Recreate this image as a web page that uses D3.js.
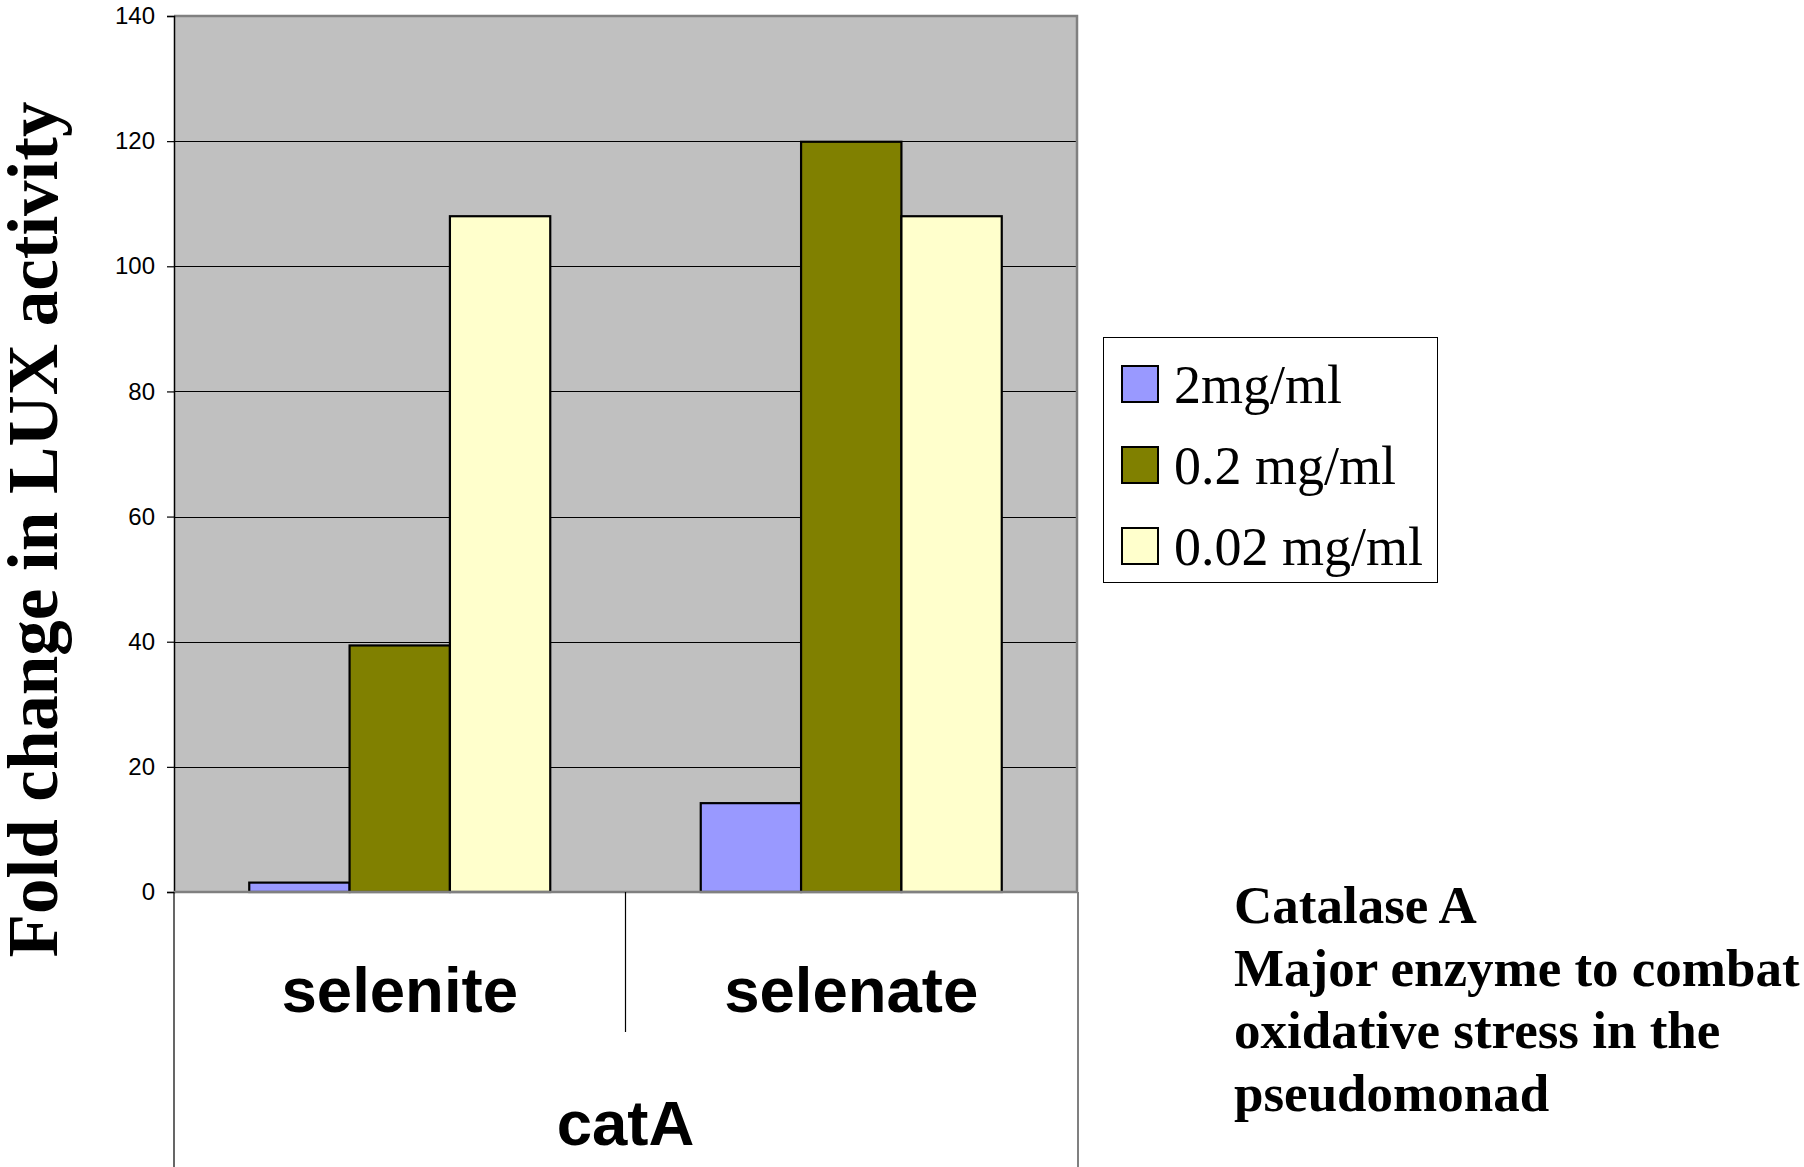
<!DOCTYPE html>
<html>
<head>
<meta charset="utf-8">
<script src="https://cdn.jsdelivr.net/npm/d3@7"></script>
<style>
  html, body { margin: 0; padding: 0; background: #ffffff; }
  svg { display: block; }
</style>
</head>
<body>
<svg id="chart" width="1804" height="1167"></svg>
<script>
// ---- data ----
const categories = ["selenite", "selenate"];
const groupLabel = "catA";
const seriesNames = ["2mg/ml", "0.2 mg/ml", "0.02 mg/ml"];
const seriesColors = ["#9999FF", "#808000", "#FFFFCC"];
const values2mg = [1.5, 14.2];
const values02mg = [39.4, 119.9];
const values002mg = [108, 108];
const yTicks = [0, 20, 40, 60, 80, 100, 120, 140];
const yTitle = "Fold change in LUX activity";
const noteLines = ["Catalase A", "Major enzyme to combat", "oxidative stress in the", "pseudomonad"];

const seriesValues = [values2mg, values02mg, values002mg];

// ---- layout ----
const plot = { left: 174, right: 1077, top: 16, bottom: 892 };
const svg = d3.select("#chart");

const y = d3.scaleLinear().domain([0, 140]).range([plot.bottom, plot.top]);
const x0 = d3.scaleBand().domain(categories).range([plot.left, plot.right])
  .paddingInner(1/3).paddingOuter(1/6);
const x1 = d3.scaleBand().domain(seriesNames).range([0, x0.bandwidth()]);

// plot background
svg.append("rect")
  .attr("x", plot.left).attr("y", plot.top)
  .attr("width", plot.right - plot.left).attr("height", plot.bottom - plot.top)
  .attr("fill", "#C0C0C0");

// gridlines
svg.append("g").selectAll("line")
  .data(yTicks.filter(d => d > 0 && d < 140))
  .join("line")
  .attr("x1", plot.left).attr("x2", plot.right)
  .attr("y1", d => Math.round(y(d)) + 0.5).attr("y2", d => Math.round(y(d)) + 0.5)
  .attr("stroke", "#000").attr("stroke-width", 1.2);

// top & right border of plot
svg.append("path")
  .attr("d", `M${plot.left},${plot.top} H${plot.right} V${plot.bottom}`)
  .attr("fill", "none").attr("stroke", "#808080").attr("stroke-width", 2.5);

// bars
const barData = [];
categories.forEach((c, ci) => {
  seriesNames.forEach((s, si) => {
    barData.push({ cat: c, series: s, value: seriesValues[si][ci], color: seriesColors[si] });
  });
});
svg.append("g").selectAll("rect")
  .data(barData)
  .join("rect")
  .attr("x", d => x0(d.cat) + x1(d.series))
  .attr("y", d => y(d.value))
  .attr("width", x1.bandwidth())
  .attr("height", d => y(0) - y(d.value))
  .attr("fill", d => d.color)
  .attr("stroke", "#000").attr("stroke-width", 2.2);

// y axis
const yAxis = d3.axisLeft(y).tickValues(yTicks).tickSize(7).tickPadding(12).tickFormat(d3.format("d"));
const yg = svg.append("g").attr("transform", `translate(${plot.left},0)`).call(yAxis);
yg.select(".domain").attr("stroke", "#000").attr("stroke-width", 1.5);
yg.selectAll(".tick line").attr("stroke", "#000").attr("stroke-width", 1.2);
yg.selectAll(".tick text")
  .attr("font-family", "Arial, 'Liberation Sans', sans-serif")
  .attr("font-size", 24).attr("fill", "#000");

// x axis (zero line)
svg.append("line")
  .attr("x1", plot.left).attr("x2", plot.right + 1)
  .attr("y1", plot.bottom).attr("y2", plot.bottom)
  .attr("stroke", "#808080").attr("stroke-width", 2.5);

// category-axis frame lines below plot
svg.append("line").attr("x1", plot.left).attr("x2", plot.left)
  .attr("y1", plot.bottom).attr("y2", 1167).attr("stroke", "#000").attr("stroke-width", 1.2);
svg.append("line").attr("x1", plot.right + 1).attr("x2", plot.right + 1)
  .attr("y1", plot.bottom).attr("y2", 1167).attr("stroke", "#808080").attr("stroke-width", 2);
// separator between categories
const sepX = (x0(categories[0]) + x0.bandwidth() + x0(categories[1])) / 2;
svg.append("line").attr("x1", sepX).attr("x2", sepX)
  .attr("y1", plot.bottom).attr("y2", 1032).attr("stroke", "#000").attr("stroke-width", 1.2);

// category labels
svg.append("g").selectAll("text")
  .data(categories)
  .join("text")
  .attr("x", d => x0(d) + x0.bandwidth() / 2)
  .attr("y", 1012)
  .attr("text-anchor", "middle")
  .attr("font-family", "Arial, 'Liberation Sans', sans-serif")
  .attr("font-weight", "bold").attr("font-size", 63.5)
  .text(d => d);

svg.append("text")
  .attr("x", (plot.left + plot.right) / 2).attr("y", 1145)
  .attr("text-anchor", "middle")
  .attr("font-family", "Arial, 'Liberation Sans', sans-serif")
  .attr("font-weight", "bold").attr("font-size", 63.5)
  .text(groupLabel);

// y title
svg.append("text")
  .attr("transform", `translate(57, ${(104 + 955) / 2}) rotate(-90)`)
  .attr("text-anchor", "middle")
  .attr("font-family", "'Times New Roman', 'Liberation Serif', serif")
  .attr("font-weight", "bold").attr("font-size", 71)
  .text(yTitle);

// legend
const legend = svg.append("g");
legend.append("rect")
  .attr("x", 1103.5).attr("y", 337.5).attr("width", 334).attr("height", 245)
  .attr("fill", "#fff").attr("stroke", "#000").attr("stroke-width", 1);
const lg = legend.selectAll("g.item")
  .data(seriesNames)
  .join("g").attr("class", "item")
  .attr("transform", (d, i) => `translate(1122, ${366 + i * 81})`);
lg.append("rect")
  .attr("x", 0).attr("y", 0).attr("width", 36).attr("height", 36)
  .attr("fill", (d, i) => seriesColors[i])
  .attr("stroke", "#000").attr("stroke-width", 2);
lg.append("text")
  .attr("x", 52).attr("y", 37)
  .attr("font-family", "'Times New Roman', 'Liberation Serif', serif")
  .attr("font-size", 54).attr("fill", "#000")
  .text(d => d);

// annotation
const note = svg.append("g").attr("transform", "translate(1234,0)");
note.selectAll("text")
  .data(noteLines)
  .join("text")
  .attr("x", 0)
  .attr("y", (d, i) => 923 + i * 62.7)
  .attr("font-family", "'Times New Roman', 'Liberation Serif', serif")
  .attr("font-weight", "bold").attr("font-size", 53)
  .text(d => d);
</script>
</body>
</html>
